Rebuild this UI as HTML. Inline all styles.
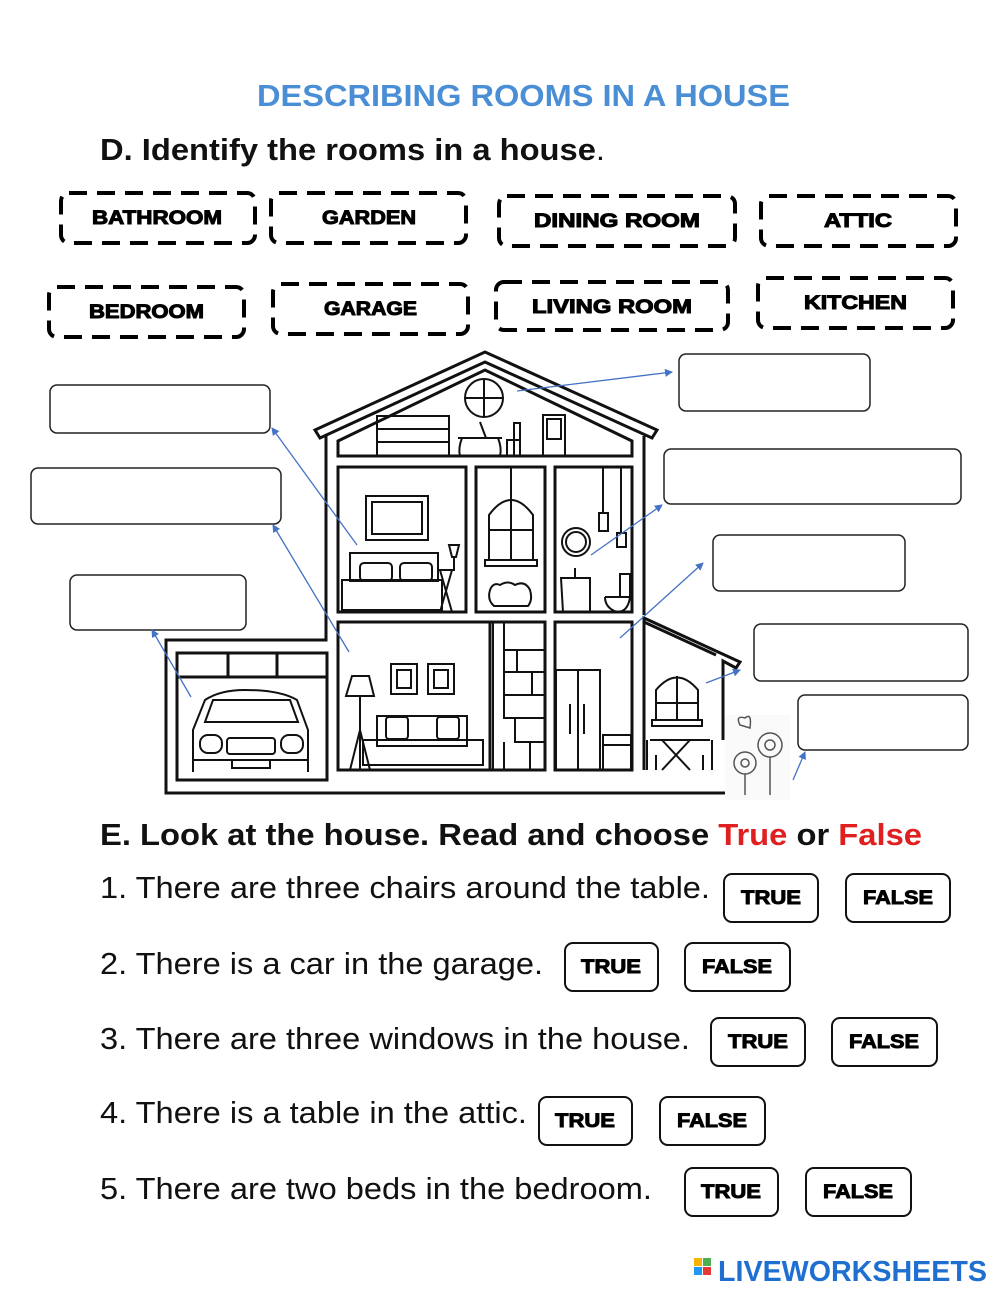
<!DOCTYPE html>
<html><head><meta charset="utf-8"><style>
body{margin:0;background:#fff;}
svg{display:block}
.t{font-family:"Liberation Sans",sans-serif;}
</style></head><body>
<svg width="1000" height="1294" viewBox="0 0 1000 1294" xmlns="http://www.w3.org/2000/svg" class="t">
<defs><marker id="a" markerWidth="8" markerHeight="8" refX="7" refY="4" orient="auto" markerUnits="userSpaceOnUse"><path d="M0,0 L8,4 L0,8 z" fill="#4472c4"/></marker></defs>
<text x="257" y="106" font-size="31" font-weight="bold" fill="#4a8fd6" textLength="533" lengthAdjust="spacingAndGlyphs">DESCRIBING ROOMS IN A HOUSE</text>
<text x="100" y="160" font-size="31" font-weight="bold" fill="#111" textLength="505" lengthAdjust="spacingAndGlyphs">D. Identify the rooms in a house<tspan font-weight="normal">.</tspan></text>
<g fill="none" stroke="#000" stroke-width="4" stroke-dasharray="18,10">
<rect x="61" y="193" width="194" height="50" rx="8"/>
<rect x="271" y="193" width="195" height="50" rx="8"/>
<rect x="499" y="196" width="236" height="50" rx="8"/>
<rect x="761" y="196" width="195" height="50" rx="8"/>
<rect x="49" y="287" width="195" height="50" rx="8"/>
<rect x="273" y="284" width="195" height="50" rx="8"/>
<rect x="496" y="282" width="232" height="48" rx="8"/>
<rect x="758" y="278" width="195" height="50" rx="8"/>
</g>
<g font-size="19" font-weight="900" fill="#000" stroke="#000" stroke-width="1" lengthAdjust="spacingAndGlyphs">
<text x="92" y="224" textLength="130" lengthAdjust="spacingAndGlyphs">BATHROOM</text>
<text x="322" y="224" textLength="94" lengthAdjust="spacingAndGlyphs">GARDEN</text>
<text x="534" y="227" textLength="166" lengthAdjust="spacingAndGlyphs">DINING ROOM</text>
<text x="824" y="227" textLength="68" lengthAdjust="spacingAndGlyphs">ATTIC</text>
<text x="89" y="318" textLength="115" lengthAdjust="spacingAndGlyphs">BEDROOM</text>
<text x="324" y="315" textLength="93" lengthAdjust="spacingAndGlyphs">GARAGE</text>
<text x="532" y="313" textLength="160" lengthAdjust="spacingAndGlyphs">LIVING ROOM</text>
<text x="804" y="309" textLength="103" lengthAdjust="spacingAndGlyphs">KITCHEN</text>
</g>
<!-- house -->
<g fill="none" stroke="#111" stroke-width="3">
<path d="M315,430 L485,352 L657,430 L652,438 L485,362 L320,438 Z"/>
<path d="M326,436 V640 H166 V793 H725"/>
<path d="M644,436 V615"/>
<path d="M338,441 L485,370 L632,441 V456 H338 Z"/>
<rect x="338" y="467" width="128" height="145"/>
<rect x="476" y="467" width="69" height="145"/>
<rect x="555" y="467" width="77" height="145"/>
<rect x="338" y="622" width="207" height="148"/>
<line x1="490" y1="622" x2="490" y2="770"/>
<rect x="555" y="622" width="77" height="148"/>
<path d="M644,770 V618 L740,662 L736,668 L723,661 V740"/>
<path d="M644,622 L716,655"/>
<rect x="177" y="653" width="150" height="127"/>
<line x1="177" y1="677" x2="327" y2="677"/><line x1="228" y1="653" x2="228" y2="677"/><line x1="277" y1="653" x2="277" y2="677"/>
</g>
<g fill="none" stroke="#111" stroke-width="2">
<circle cx="484" cy="398" r="19"/><line x1="465" y1="398" x2="503" y2="398"/><line x1="484" y1="379" x2="484" y2="417"/>
<rect x="377" y="416" width="72" height="40"/><line x1="377" y1="429" x2="449" y2="429"/><line x1="377" y1="442" x2="449" y2="442"/>
<path d="M458,438 H502 M462,438 Q458,448 460,456 M498,438 Q502,448 500,456 M486,438 L480,422"/>
<path d="M507,456 V440 H520 V423 H514 V456 M520,440 V456"/>
<rect x="543" y="415" width="22" height="41"/><rect x="547" y="419" width="14" height="20"/>
<rect x="366" y="496" width="62" height="44"/><rect x="372" y="502" width="50" height="32"/>
<rect x="342" y="580" width="100" height="30"/><rect x="350" y="553" width="88" height="28"/>
<rect x="360" y="563" width="32" height="18" rx="4"/><rect x="400" y="563" width="32" height="18" rx="4"/>
<path d="M438,570 H455 M440,570 L452,612 M452,570 L440,612 M449,545 H459 L456,557 H452 Z M454,557 V570"/>
<path d="M489,560 V515 Q511,485 533,515 V560 Z M511,500 V560 M489,530 H533"/><rect x="485" y="560" width="52" height="6"/>
<line x1="511" y1="467" x2="511" y2="500"/>
<path d="M490,590 Q493,582 500,585 Q508,580 515,585 Q525,580 530,590 Q533,600 528,606 H494 Q487,600 490,590"/>
<circle cx="576" cy="542" r="14"/><circle cx="576" cy="542" r="10"/>
<path d="M603,467 V513 M621,467 V533"/><rect x="599" y="513" width="9" height="18"/><rect x="617" y="533" width="9" height="14"/>
<path d="M561,578 H590 V612 H563 Z M575,578 V568"/>
<path d="M605,597 H630 Q628,612 617,612 Q605,608 605,597 M620,597 V574 H630 V597"/>
<rect x="391" y="664" width="26" height="30"/><rect x="397" y="670" width="14" height="18"/>
<rect x="428" y="664" width="26" height="30"/><rect x="434" y="670" width="14" height="18"/>
<path d="M346,696 L352,676 H369 L374,696 Z M360,696 V770 M360,730 L350,770 M360,730 L370,770"/>
<rect x="363" y="740" width="120" height="25"/><rect x="377" y="716" width="90" height="30"/>
<rect x="386" y="717" width="22" height="22" rx="3"/><rect x="437" y="717" width="22" height="22" rx="3"/>
<path d="M493,622 V770 M504,622 V650 H545 M504,650 V672 M517,650 V672 H545 M504,672 H517 M504,672 V695 H545 M532,672 V695 M504,695 V718 H545 M515,718 V742 H545 M504,742 V770 M530,742 V770"/>
<rect x="556" y="670" width="44" height="100"/><line x1="578" y1="670" x2="578" y2="770"/>
<line x1="570" y1="704" x2="570" y2="734"/><line x1="584" y1="704" x2="584" y2="734"/>
<rect x="603" y="735" width="28" height="35"/><line x1="603" y1="745" x2="631" y2="745"/>
<path d="M656,720 V690 Q677,665 698,690 V720 Z M677,676 V720 M656,703 H698"/><rect x="652" y="720" width="50" height="6"/>
<path d="M650,740 H710 M662,740 L690,770 M690,740 L662,770 M647,740 V770 M656,755 V770 M712,740 V770 M703,755 V770"/>
<path d="M193,772 V730 L205,700 Q220,690 245,690 Q280,690 297,700 L308,730 V772"/>
<path d="M205,722 L213,700 H290 L298,722 Z"/>
<rect x="200" y="735" width="22" height="18" rx="8"/><rect x="281" y="735" width="22" height="18" rx="8"/>
<rect x="227" y="738" width="48" height="16" rx="3"/><rect x="232" y="760" width="38" height="8"/>
<line x1="193" y1="760" x2="308" y2="760"/>
</g>
<g fill="none" stroke="#555" stroke-width="1.5">
<rect x="725" y="715" width="65" height="85" fill="#fafafa" stroke="none"/>
<circle cx="770" cy="745" r="12"/><circle cx="770" cy="745" r="5"/>
<circle cx="745" cy="763" r="11"/><circle cx="745" cy="763" r="4"/>
<path d="M770,757 V795 M745,774 V795 M740,725 Q735,715 745,718 Q752,712 750,728 Z"/>
</g>
<g fill="#fff" stroke="#222" stroke-width="1.5">
<rect x="50" y="385" width="220" height="48" rx="7"/>
<rect x="31" y="468" width="250" height="56" rx="7"/>
<rect x="70" y="575" width="176" height="55" rx="7"/>
<rect x="679" y="354" width="191" height="57" rx="7"/>
<rect x="664" y="449" width="297" height="55" rx="7"/>
<rect x="713" y="535" width="192" height="56" rx="7"/>
<rect x="754" y="624" width="214" height="57" rx="7"/>
<rect x="798" y="695" width="170" height="55" rx="7"/>
</g>
<g stroke="#4472c4" stroke-width="1.3" marker-end="url(#a)">
<line x1="517" y1="391" x2="672" y2="372"/>
<line x1="357" y1="545" x2="272" y2="428"/>
<line x1="349" y1="652" x2="273" y2="525"/>
<line x1="191" y1="697" x2="152" y2="630"/>
<line x1="591" y1="555" x2="662" y2="505"/>
<line x1="620" y1="638" x2="703" y2="563"/>
<line x1="706" y1="683" x2="740" y2="670"/>
<line x1="793" y1="780" x2="805" y2="752"/>
</g>
<text x="100" y="845" font-size="31" font-weight="bold" fill="#111" textLength="822" lengthAdjust="spacingAndGlyphs">E. Look at the house. Read and choose <tspan fill="#e02020">True</tspan> or <tspan fill="#e02020">False</tspan></text>
<g font-size="31" fill="#111">
<text x="100" y="898" textLength="610" lengthAdjust="spacingAndGlyphs">1. There are three chairs around the table.</text>
<text x="100" y="974" textLength="443" lengthAdjust="spacingAndGlyphs">2. There is a car in the garage.</text>
<text x="100" y="1049" textLength="590" lengthAdjust="spacingAndGlyphs">3. There are three windows in the house.</text>
<text x="100" y="1123" textLength="427" lengthAdjust="spacingAndGlyphs">4. There is a table in the attic.</text>
<text x="100" y="1199" textLength="552" lengthAdjust="spacingAndGlyphs">5. There are two beds in the bedroom.</text>
</g>
<g fill="none" stroke="#111" stroke-width="2">
<rect x="724" y="874" width="94" height="48" rx="8"/><rect x="846" y="874" width="104" height="48" rx="8"/>
<rect x="565" y="943" width="93" height="48" rx="8"/><rect x="685" y="943" width="105" height="48" rx="8"/>
<rect x="711" y="1018" width="94" height="48" rx="8"/><rect x="832" y="1018" width="105" height="48" rx="8"/>
<rect x="539" y="1097" width="93" height="48" rx="8"/><rect x="660" y="1097" width="105" height="48" rx="8"/>
<rect x="685" y="1168" width="93" height="48" rx="8"/><rect x="806" y="1168" width="105" height="48" rx="8"/>
</g>
<g font-size="19" font-weight="900" fill="#000" stroke="#000" stroke-width="0.9">
<text x="741" y="904" textLength="60" lengthAdjust="spacingAndGlyphs">TRUE</text><text x="863" y="904" textLength="70" lengthAdjust="spacingAndGlyphs">FALSE</text>
<text x="581" y="973" textLength="60" lengthAdjust="spacingAndGlyphs">TRUE</text><text x="702" y="973" textLength="70" lengthAdjust="spacingAndGlyphs">FALSE</text>
<text x="728" y="1048" textLength="60" lengthAdjust="spacingAndGlyphs">TRUE</text><text x="849" y="1048" textLength="70" lengthAdjust="spacingAndGlyphs">FALSE</text>
<text x="555" y="1127" textLength="60" lengthAdjust="spacingAndGlyphs">TRUE</text><text x="677" y="1127" textLength="70" lengthAdjust="spacingAndGlyphs">FALSE</text>
<text x="701" y="1198" textLength="60" lengthAdjust="spacingAndGlyphs">TRUE</text><text x="823" y="1198" textLength="70" lengthAdjust="spacingAndGlyphs">FALSE</text>
</g>
<g>
<rect x="694" y="1258" width="8" height="8" fill="#f5b400"/><rect x="703" y="1258" width="8" height="8" fill="#4caf50"/>
<rect x="694" y="1267" width="8" height="8" fill="#2196f3"/><rect x="703" y="1267" width="8" height="8" fill="#e53935"/>
<text x="718" y="1281" font-size="29" font-weight="bold" fill="#1e6fd0" textLength="269" lengthAdjust="spacingAndGlyphs">LIVEWORKSHEETS</text>
</g>
</svg>
</body></html>
